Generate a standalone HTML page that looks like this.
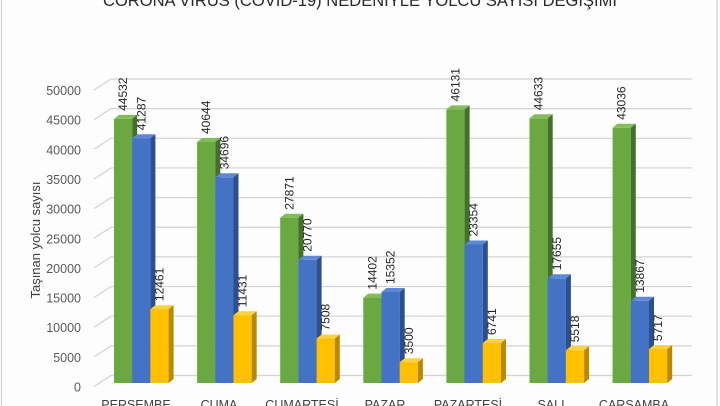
<!DOCTYPE html>
<html><head><meta charset="utf-8">
<style>
html,body{margin:0;padding:0;background:#fff;}
svg{display:block;}
text{font-family:"Liberation Sans",Arial,sans-serif;}
</style></head>
<body>
<svg width="720" height="406" viewBox="0 0 720 406" xmlns="http://www.w3.org/2000/svg">
<rect x="0" y="0" width="720" height="406" fill="#fdfdfd"/>
<rect x="1.5" y="-5" width="715.5" height="420" fill="none" stroke="#cfcfcf" stroke-width="1.2"/>
<text x="360" y="6" font-size="17" fill="#2a2a2a" text-anchor="middle" textLength="514" lengthAdjust="spacingAndGlyphs">CORONA VİRÜS (COVİD-19) NEDENİYLE YOLCU SAYISI DEĞİŞİMİ</text>

<g stroke="#d2d2d2" stroke-width="1.2" fill="none">
<polyline points="94,386.5 111,375.5 692,375.5"/>
<polyline points="94,356.85 111,345.85 692,345.85"/>
<polyline points="94,327.2 111,316.2 692,316.2"/>
<polyline points="94,297.55 111,286.55 692,286.55"/>
<polyline points="94,267.9 111,256.9 692,256.9"/>
<polyline points="94,238.25 111,227.25 692,227.25"/>
<polyline points="94,208.6 111,197.6 692,197.6"/>
<polyline points="94,178.95 111,167.95 692,167.95"/>
<polyline points="94,149.3 111,138.3 692,138.3"/>
<polyline points="94,119.65 111,108.65 692,108.65"/>
<polyline points="94,90 111,79 692,79"/>
</g>

<g font-size="12.5" fill="#595959" text-anchor="end">
<text x="81" y="391.5">0</text>
<text x="81" y="361.85">5000</text>
<text x="81" y="332.2">10000</text>
<text x="81" y="302.55">15000</text>
<text x="81" y="272.9">20000</text>
<text x="81" y="243.25">25000</text>
<text x="81" y="213.6">30000</text>
<text x="81" y="183.95">35000</text>
<text x="81" y="154.3">40000</text>
<text x="81" y="124.65">45000</text>
<text x="81" y="95">50000</text>
</g>

<text transform="translate(40,240) rotate(-90)" font-size="13" fill="#404040" text-anchor="middle">Taşınan yolcu sayısı</text>

<g id="bars">
<g transform="translate(114,118.9)"><rect width="18.2" height="264.1" fill="#6aa842"/><polygon points="0,0 18.2,0 23.2,-4 5,-4" fill="#82bd5a"/><polygon points="18.2,0 23.2,-4 23.2,260.1 18.2,264.1" fill="#44702a"/></g>
<g transform="translate(132.2,138.2)"><rect width="18.2" height="244.8" fill="#4472c4"/><polygon points="0,0 18.2,0 23.2,-4 5,-4" fill="#5d88d6"/><polygon points="18.2,0 23.2,-4 23.2,240.8 18.2,244.8" fill="#2b4f8f"/></g>
<g transform="translate(150.4,309.1)"><rect width="18.2" height="73.9" fill="#ffc000"/><polygon points="0,0 18.2,0 23.2,-4 5,-4" fill="#ffd23c"/><polygon points="18.2,0 23.2,-4 23.2,69.9 18.2,73.9" fill="#b98a00"/></g>
<g transform="translate(197.1,142)"><rect width="18.2" height="241" fill="#6aa842"/><polygon points="0,0 18.2,0 23.2,-4 5,-4" fill="#82bd5a"/><polygon points="18.2,0 23.2,-4 23.2,237 18.2,241" fill="#44702a"/></g>
<g transform="translate(215.3,177.3)"><rect width="18.2" height="205.7" fill="#4472c4"/><polygon points="0,0 18.2,0 23.2,-4 5,-4" fill="#5d88d6"/><polygon points="18.2,0 23.2,-4 23.2,201.7 18.2,205.7" fill="#2b4f8f"/></g>
<g transform="translate(233.5,315.2)"><rect width="18.2" height="67.8" fill="#ffc000"/><polygon points="0,0 18.2,0 23.2,-4 5,-4" fill="#ffd23c"/><polygon points="18.2,0 23.2,-4 23.2,63.8 18.2,67.8" fill="#b98a00"/></g>
<g transform="translate(280.2,217.7)"><rect width="18.2" height="165.3" fill="#6aa842"/><polygon points="0,0 18.2,0 23.2,-4 5,-4" fill="#82bd5a"/><polygon points="18.2,0 23.2,-4 23.2,161.3 18.2,165.3" fill="#44702a"/></g>
<g transform="translate(298.4,259.8)"><rect width="18.2" height="123.2" fill="#4472c4"/><polygon points="0,0 18.2,0 23.2,-4 5,-4" fill="#5d88d6"/><polygon points="18.2,0 23.2,-4 23.2,119.2 18.2,123.2" fill="#2b4f8f"/></g>
<g transform="translate(316.6,338.5)"><rect width="18.2" height="44.5" fill="#ffc000"/><polygon points="0,0 18.2,0 23.2,-4 5,-4" fill="#ffd23c"/><polygon points="18.2,0 23.2,-4 23.2,40.5 18.2,44.5" fill="#b98a00"/></g>
<g transform="translate(363.3,297.6)"><rect width="18.2" height="85.4" fill="#6aa842"/><polygon points="0,0 18.2,0 23.2,-4 5,-4" fill="#82bd5a"/><polygon points="18.2,0 23.2,-4 23.2,81.4 18.2,85.4" fill="#44702a"/></g>
<g transform="translate(381.5,292)"><rect width="18.2" height="91" fill="#4472c4"/><polygon points="0,0 18.2,0 23.2,-4 5,-4" fill="#5d88d6"/><polygon points="18.2,0 23.2,-4 23.2,87 18.2,91" fill="#2b4f8f"/></g>
<g transform="translate(399.7,362.2)"><rect width="18.2" height="20.8" fill="#ffc000"/><polygon points="0,0 18.2,0 23.2,-4 5,-4" fill="#ffd23c"/><polygon points="18.2,0 23.2,-4 23.2,16.8 18.2,20.8" fill="#b98a00"/></g>
<g transform="translate(446.4,109.4)"><rect width="18.2" height="273.6" fill="#6aa842"/><polygon points="0,0 18.2,0 23.2,-4 5,-4" fill="#82bd5a"/><polygon points="18.2,0 23.2,-4 23.2,269.6 18.2,273.6" fill="#44702a"/></g>
<g transform="translate(464.6,244.5)"><rect width="18.2" height="138.5" fill="#4472c4"/><polygon points="0,0 18.2,0 23.2,-4 5,-4" fill="#5d88d6"/><polygon points="18.2,0 23.2,-4 23.2,134.5 18.2,138.5" fill="#2b4f8f"/></g>
<g transform="translate(482.8,343)"><rect width="18.2" height="40" fill="#ffc000"/><polygon points="0,0 18.2,0 23.2,-4 5,-4" fill="#ffd23c"/><polygon points="18.2,0 23.2,-4 23.2,36 18.2,40" fill="#b98a00"/></g>
<g transform="translate(529.5,118.3)"><rect width="18.2" height="264.7" fill="#6aa842"/><polygon points="0,0 18.2,0 23.2,-4 5,-4" fill="#82bd5a"/><polygon points="18.2,0 23.2,-4 23.2,260.7 18.2,264.7" fill="#44702a"/></g>
<g transform="translate(547.7,278.3)"><rect width="18.2" height="104.7" fill="#4472c4"/><polygon points="0,0 18.2,0 23.2,-4 5,-4" fill="#5d88d6"/><polygon points="18.2,0 23.2,-4 23.2,100.7 18.2,104.7" fill="#2b4f8f"/></g>
<g transform="translate(565.9,350.3)"><rect width="18.2" height="32.7" fill="#ffc000"/><polygon points="0,0 18.2,0 23.2,-4 5,-4" fill="#ffd23c"/><polygon points="18.2,0 23.2,-4 23.2,28.7 18.2,32.7" fill="#b98a00"/></g>
<g transform="translate(612.6,127.8)"><rect width="18.2" height="255.2" fill="#6aa842"/><polygon points="0,0 18.2,0 23.2,-4 5,-4" fill="#82bd5a"/><polygon points="18.2,0 23.2,-4 23.2,251.2 18.2,255.2" fill="#44702a"/></g>
<g transform="translate(630.8,300.8)"><rect width="18.2" height="82.2" fill="#4472c4"/><polygon points="0,0 18.2,0 23.2,-4 5,-4" fill="#5d88d6"/><polygon points="18.2,0 23.2,-4 23.2,78.2 18.2,82.2" fill="#2b4f8f"/></g>
<g transform="translate(649,349.1)"><rect width="18.2" height="33.9" fill="#ffc000"/><polygon points="0,0 18.2,0 23.2,-4 5,-4" fill="#ffd23c"/><polygon points="18.2,0 23.2,-4 23.2,29.9 18.2,33.9" fill="#b98a00"/></g>
</g>

<g font-size="12" fill="#262626">
<text transform="translate(127.1,110.9) rotate(-90)">44532</text>
<text transform="translate(145.3,130.2) rotate(-90)">41287</text>
<text transform="translate(163.5,301.1) rotate(-90)">12461</text>
<text transform="translate(210.2,134) rotate(-90)">40644</text>
<text transform="translate(228.4,169.3) rotate(-90)">34696</text>
<text transform="translate(246.6,307.2) rotate(-90)">11431</text>
<text transform="translate(293.3,209.7) rotate(-90)">27871</text>
<text transform="translate(311.5,251.8) rotate(-90)">20770</text>
<text transform="translate(329.7,330.5) rotate(-90)">7508</text>
<text transform="translate(376.4,289.6) rotate(-90)">14402</text>
<text transform="translate(394.6,284) rotate(-90)">15352</text>
<text transform="translate(412.8,354.2) rotate(-90)">3500</text>
<text transform="translate(459.5,101.4) rotate(-90)">46131</text>
<text transform="translate(477.7,236.5) rotate(-90)">23354</text>
<text transform="translate(495.9,335) rotate(-90)">6741</text>
<text transform="translate(542.6,110.3) rotate(-90)">44633</text>
<text transform="translate(560.8,270.3) rotate(-90)">17655</text>
<text transform="translate(579,342.3) rotate(-90)">5518</text>
<text transform="translate(625.7,119.8) rotate(-90)">43036</text>
<text transform="translate(643.9,292.8) rotate(-90)">13867</text>
<text transform="translate(662.1,341.1) rotate(-90)">5717</text>
</g>

<g font-size="12.5" fill="#404040" text-anchor="middle">
<text x="136" y="409">PERŞEMBE</text>
<text x="219" y="409">CUMA</text>
<text x="302" y="409">CUMARTESİ</text>
<text x="385" y="409">PAZAR</text>
<text x="468" y="409">PAZARTESİ</text>
<text x="551" y="409">SALI</text>
<text x="634" y="409">ÇARŞAMBA</text>
</g>
</svg>
</body></html>
